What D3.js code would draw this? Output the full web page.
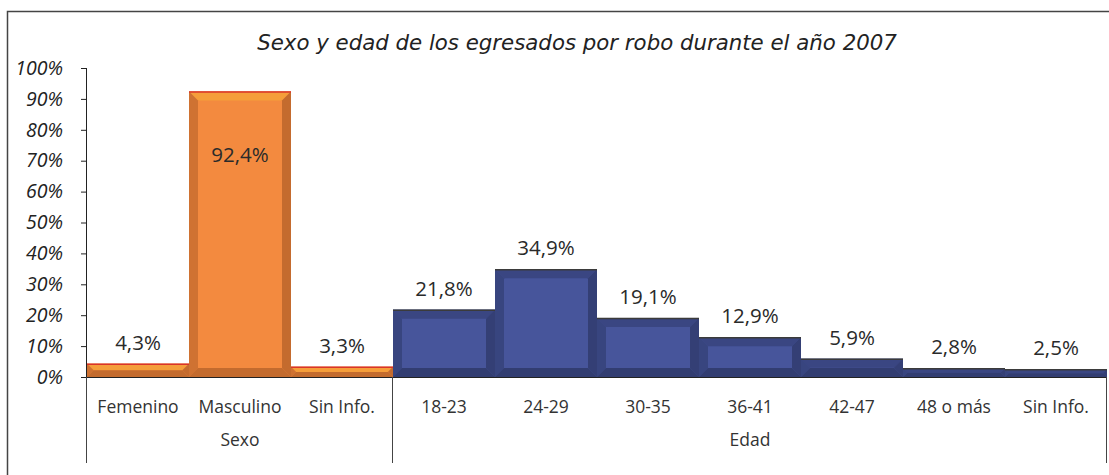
<!DOCTYPE html>
<html>
<head>
<meta charset="utf-8">
<script src="https://cdn.jsdelivr.net/npm/d3@7"></script>
<style>
  body { margin: 0; background: #fff; }
  svg { display: block; }
</style>
</head>
<body>
<div id="chart"></div>
<script>
const title = "Sexo y edad de los egresados por robo durante el año 2007";
const categories = ["Femenino", "Masculino", "Sin Info.", "18-23", "24-29", "30-35", "36-41", "42-47", "48 o más", "Sin Info."];
const values = [4.3, 92.4, 3.3, 21.8, 34.9, 19.1, 12.9, 5.9, 2.8, 2.5];
const groups = ["Sexo", "Edad"];
const groupSizes = [3, 7];
const yTicks = [0, 10, 20, 30, 40, 50, 60, 70, 80, 90, 100];

const W = 1109, H = 475;
const plotLeft = 87, plotRight = 1107, plotTop = 68, plotBase = 377;

const svg = d3.select("#chart").append("svg")
  .attr("width", W)
  .attr("height", H);

// outer frame
svg.append("path")
  .attr("d", `M7.5,${H} V11.5 H${W}`)
  .attr("fill", "none")
  .attr("stroke", "#444")
  .attr("stroke-width", 1.5);

svg.append("text")
  .attr("x", 577)
  .attr("y", 50)
  .attr("text-anchor", "middle")
  .style("font-family", "DejaVu Sans")
  .style("font-style", "italic")
  .style("font-size", "21.3px")
  .attr("fill", "#222")
  .text(title);

const x = d3.scaleBand()
  .domain(d3.range(categories.length))
  .range([plotLeft, plotRight])
  .padding(0);

const y = d3.scaleLinear()
  .domain([0, 100])
  .range([plotBase, plotTop]);

// y axis
const yAxis = svg.append("g")
  .attr("transform", `translate(${plotLeft}, 0)`)
  .call(d3.axisLeft(y).tickValues(yTicks).tickSize(6).tickFormat(d => d + "%"));
yAxis.select(".domain").attr("stroke", "#222").attr("d", `M-0.5,${plotTop}V${plotBase}`);
yAxis.selectAll(".tick line").attr("stroke", "#222");
yAxis.selectAll(".tick text")
  .attr("x", -24)
  .style("font-family", "Open Sans")
  .style("font-style", "italic")
  .style("font-size", "19.5px")
  .attr("fill", "#222");

const colors = [
  { main: "#F38A3F", top: "#F5A03A", side: "#B8632A", bottom: "#B36029", edge: "#D9342B" },
  { main: "#47559B", top: "#38457F", side: "#2F3A6C", bottom: "#2B3563", edge: "#3b3b3b" }
];
const groupOf = i => (i < groupSizes[0] ? 0 : 1);

const bars = svg.append("g");
values.forEach((v, i) => {
  const c = colors[groupOf(i)];
  const x0 = x(i), x1 = x(i) + x.bandwidth();
  const y0 = y(v), y1 = y(0);
  const b = Math.min(9, (y1 - y0) / 2, x.bandwidth() / 2);
  const g = bars.append("g");
  g.append("rect")
    .attr("x", x0).attr("y", y0)
    .attr("width", x1 - x0).attr("height", y1 - y0)
    .attr("fill", c.main);
  const poly = (pts, fill, op) => g.append("polygon")
    .attr("points", pts.map(p => p.join(",")).join(" "))
    .attr("fill", fill)
    .attr("opacity", op);
  poly([[x0, y0], [x1, y0], [x1 - b, y0 + b], [x0 + b, y0 + b]], c.top, 0.9);
  poly([[x0, y0], [x0 + b, y0 + b], [x0 + b, y1 - b], [x0, y1]], c.side, 0.6);
  poly([[x1, y0], [x1 - b, y0 + b], [x1 - b, y1 - b], [x1, y1]], c.side, 0.8);
  poly([[x0, y1], [x0 + b, y1 - b], [x1 - b, y1 - b], [x1, y1]], c.bottom, 0.75);
  g.append("line")
    .attr("x1", x0).attr("x2", x1)
    .attr("y1", y0 + 0.5).attr("y2", y0 + 0.5)
    .attr("stroke", c.edge)
    .attr("stroke-width", 1.5);
});

// value labels
svg.append("g").selectAll("text")
  .data(values)
  .join("text")
  .attr("x", (d, i) => x(i) + x.bandwidth() / 2)
  .attr("y", d => d > 80 ? y(d) + 71 : y(d) - 14)
  .attr("text-anchor", "middle")
  .style("font-family", "Open Sans")
  .style("font-size", "20.5px")
  .attr("fill", "#2a2a2a")
  .text(d => d.toFixed(1).replace(".", ",") + "%");

// baseline
svg.append("line")
  .attr("x1", plotLeft - 6).attr("x2", plotRight)
  .attr("y1", plotBase + 0.5).attr("y2", plotBase + 0.5)
  .attr("stroke", "#222");

// category labels
svg.append("g").selectAll("text")
  .data(categories)
  .join("text")
  .attr("x", (d, i) => x(i) + x.bandwidth() / 2)
  .attr("y", 413)
  .attr("text-anchor", "middle")
  .style("font-family", "Open Sans")
  .style("font-size", "17.5px")
  .attr("fill", "#333")
  .text(d => d);

// group separators and labels
let start = 0;
const seps = [x(0)];
groups.forEach((gname, gi) => {
  const end = start + groupSizes[gi];
  const gx0 = x(start), gx1 = x(end - 1) + x.bandwidth();
  seps.push(gx1);
  svg.append("text")
    .attr("x", (gx0 + gx1) / 2)
    .attr("y", 446)
    .attr("text-anchor", "middle")
    .style("font-family", "Open Sans")
    .style("font-size", "17.5px")
    .attr("fill", "#333")
    .text(gname);
  start = end;
});
svg.append("g").selectAll("line")
  .data(seps)
  .join("line")
  .attr("x1", d => Math.round(d) - 0.5).attr("x2", d => Math.round(d) - 0.5)
  .attr("y1", plotBase).attr("y2", 463)
  .attr("stroke", "#444");
</script>
</body>
</html>
